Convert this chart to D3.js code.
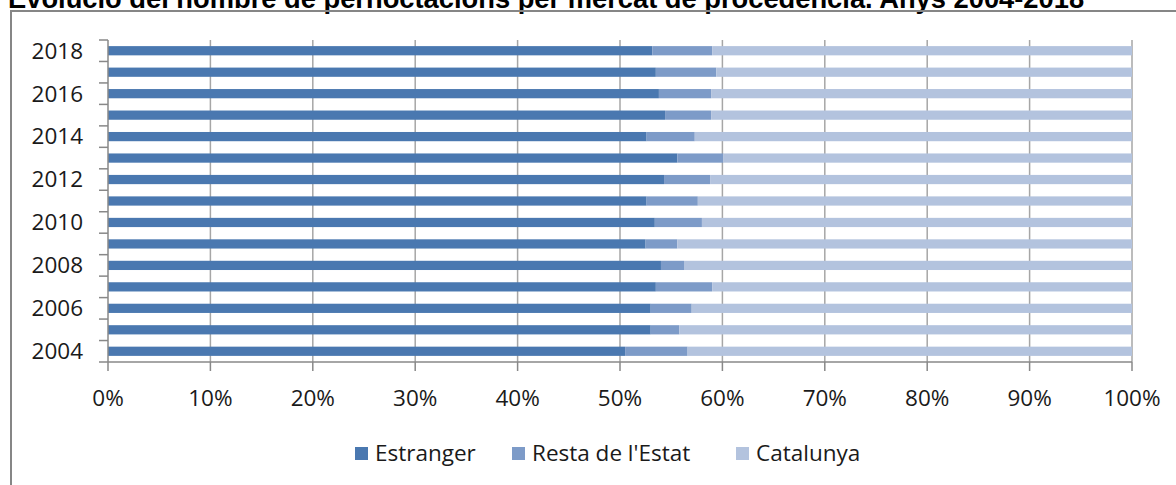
<!DOCTYPE html>
<html><head><meta charset="utf-8">
<script src="https://cdn.jsdelivr.net/npm/d3@7"></script>
<style>
html,body{margin:0;padding:0;background:#fff;}
svg{display:block;}
</style></head>
<body>
<svg id="c" width="1176" height="485"></svg>
<script>
const years = ["2004","2005","2006","2007","2008","2009","2010","2011","2012","2013","2014","2015","2016","2017","2018"];
const yearLabels = ["2004","2006","2008","2010","2012","2014","2016","2018"];
const estranger = [50.5,53.0,53.0,53.5,54.0,52.5,53.4,52.6,54.3,55.6,52.6,54.4,53.8,53.5,53.15];
const restaEstat = [6.1,2.8,4.0,5.5,2.25,3.1,4.6,5.0,4.5,4.5,4.7,4.5,5.1,5.9,5.85];
const catalunya = [43.4,44.2,43.0,41.0,43.75,44.4,42.0,42.4,41.2,39.9,42.7,41.1,41.1,40.6,41.0];
const seriesNames = ["Estranger","Resta de l'Estat","Catalunya"];
const seriesColors = ["#4a78b0","#7d9bc8","#b3c3de"];
const xTicks = [0,0.1,0.2,0.3,0.4,0.5,0.6,0.7,0.8,0.9,1.0];
const title = "Evolució del nombre de pernoctacions per mercat de procedència. Anys 2004-2018";

const svg = d3.select("#c");
const FONT = "'Open Sans', sans-serif";

// title (cut off at top)
const t = svg.append("text").attr("x",8).attr("y",8)
  .attr("font-family","'Liberation Sans', Arial, sans-serif").attr("font-weight","bold")
  .attr("font-size",22).attr("fill","#000").text(title);
const tw = t.node().getComputedTextLength();
t.attr("font-size", 22*1077/tw);

// frame
svg.append("rect").attr("x",11).attr("y",11).attr("width",1300).attr("height",600)
  .attr("fill","none").attr("stroke","#868686").attr("stroke-width",2);

const m = {left:108, right:1132, top:40, bottom:362};
const x = d3.scaleLinear().domain([0,1]).range([m.left,m.right]);
const y = d3.scaleBand().domain(years.slice().reverse()).range([m.top,m.bottom]).paddingInner(0.57).paddingOuter(0.285);
const yb = d3.scaleBand().domain(years.slice().reverse()).range([m.top,m.bottom]);

// gridlines
svg.append("g").selectAll("line").data(xTicks.slice(1)).join("line")
  .attr("x1",d=>x(d)).attr("x2",d=>x(d)).attr("y1",m.top).attr("y2",m.bottom)
  .attr("stroke","#a6a6a6").attr("stroke-width",1.5);

// stacked data
const rows = years.map((yr,i)=>({year:yr, Estranger:estranger[i], "Resta de l'Estat":restaEstat[i], Catalunya:catalunya[i]}));
const stack = d3.stack().keys(seriesNames).offset(d3.stackOffsetExpand);
const layers = stack(rows);
svg.append("g").selectAll("g").data(layers).join("g")
  .attr("fill",(d,i)=>seriesColors[i])
  .selectAll("rect").data(d=>d).join("rect")
  .attr("x",d=>x(d[0])).attr("width",d=>x(d[1])-x(d[0]))
  .attr("y",d=>y(d.data.year)).attr("height",y.bandwidth());

// y axis
const ya = svg.append("g");
ya.append("line").attr("x1",m.left).attr("x2",m.left).attr("y1",m.top).attr("y2",m.bottom)
  .attr("stroke","#888").attr("stroke-width",1.5);
const bounds = yb.domain().map(d=>yb(d)).concat([m.bottom]);
ya.selectAll("line.t").data(bounds).join("line").attr("class","t")
  .attr("x1",m.left-9).attr("x2",m.left).attr("y1",d=>d).attr("y2",d=>d)
  .attr("stroke","#888").attr("stroke-width",1.5);
ya.selectAll("text").data(yearLabels).join("text")
  .attr("x",83).attr("y",d=>yb(d)+yb.bandwidth()/2).attr("dy","0.35em")
  .attr("text-anchor","end").attr("font-family",FONT).attr("font-size",22.5).attr("fill","#1a1a1a")
  .text(d=>d);

// x axis
const xa = svg.append("g");
xa.append("line").attr("x1",m.left).attr("x2",m.right).attr("y1",m.bottom).attr("y2",m.bottom)
  .attr("stroke","#888").attr("stroke-width",1.5);
xa.selectAll("line.t").data(xTicks).join("line").attr("class","t")
  .attr("x1",d=>x(d)).attr("x2",d=>x(d)).attr("y1",m.bottom).attr("y2",m.bottom+9)
  .attr("stroke","#888").attr("stroke-width",1.5);
xa.selectAll("text").data(xTicks).join("text")
  .attr("x",d=>x(d)).attr("y",398).attr("dy","0.35em").attr("text-anchor","middle")
  .attr("font-family",FONT).attr("font-size",22.5).attr("fill","#1a1a1a")
  .text(d=>d3.format(".0%")(d));

// legend
const legX = [355, 512, 736];
const lg = svg.append("g");
seriesNames.forEach((n,i)=>{
  lg.append("rect").attr("x",legX[i]).attr("y",447).attr("width",13).attr("height",13).attr("fill",seriesColors[i]);
  lg.append("text").attr("x",legX[i]+20).attr("y",453.5).attr("dy","0.35em")
    .attr("font-family",FONT).attr("font-size",22.5).attr("fill","#1a1a1a").text(n);
});
</script>
</body></html>
